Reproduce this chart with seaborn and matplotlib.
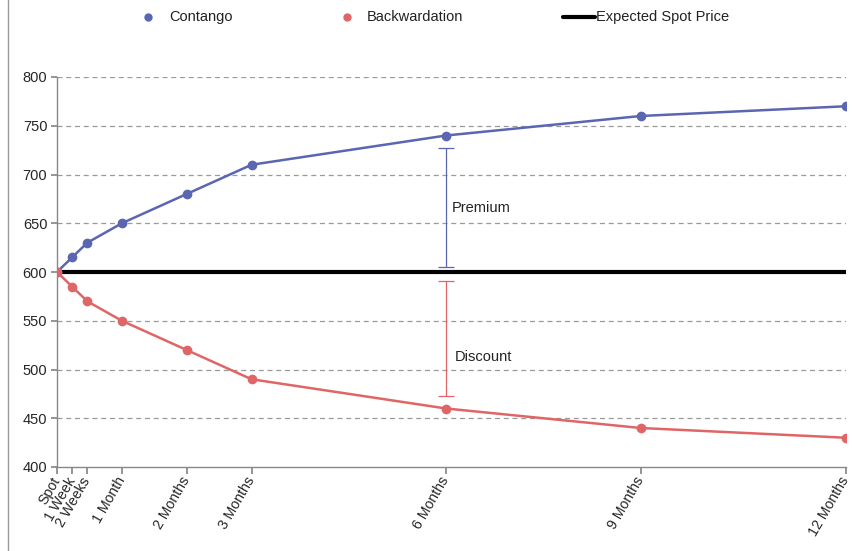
import numpy as np
import pandas as pd
import matplotlib
matplotlib.use("Agg")
import matplotlib.pyplot as plt
import matplotlib.transforms as mtransforms
from matplotlib.lines import Line2D
import seaborn as sns

# Delivery horizon in days and the tick labels shown for each
days = [0, 7, 14, 30, 60, 90, 180, 270, 365]
tenors = ["Spot", "1 Week", "2 Weeks", "1 Month", "2 Months", "3 Months",
          "6 Months", "9 Months", "12 Months"]

# Futures prices along the curve
contango = [600, 615, 630, 650, 680, 710, 740, 760, 770]
backwardation = [600, 585, 570, 550, 520, 490, 460, 440, 430]
spot_price = 600

# Bracket ranges for the annotated gaps
premium_range = [605, 727]
discount_range = [473, 591]
bracket_day = 180

blue = "#5B66B2"
red = "#E06566"

sns.set_theme(style="white")
plt.rcParams["font.family"] = ["Liberation Sans", "DejaVu Sans"]

df = pd.DataFrame({
    "days": days * 2,
    "price": contango + backwardation,
    "curve": ["Contango"] * len(days) + ["Backwardation"] * len(days),
})

W, H = 852, 551
fig = plt.figure(figsize=(W / 100, H / 100), dpi=100)
ax = fig.add_axes([57 / W, 1 - 467 / H, 789 / W, 390 / H])

# Horizontal dashed gridlines
for v in range(450, 801, 50):
    if v != spot_price:
        ax.axhline(v, color="#9a9a9a", lw=0.9, ls=(0, (4, 3)), zorder=0)

ax.axhline(spot_price, color="black", lw=3, zorder=2)

sns.lineplot(data=df, x="days", y="price", hue="curve",
             palette={"Contango": blue, "Backwardation": red},
             marker="o", markersize=7, markeredgewidth=0, lw=1.8,
             legend=False, ax=ax, zorder=3)

# Premium / discount brackets
p_mid = np.mean(premium_range)
d_mid = np.mean(discount_range)
ax.errorbar([bracket_day], [p_mid], yerr=[[p_mid - premium_range[0]], [premium_range[1] - p_mid]],
            fmt="none", ecolor=blue, elinewidth=0.9, capsize=6, capthick=0.9, zorder=4)
ax.errorbar([bracket_day], [d_mid], yerr=[[d_mid - discount_range[0]], [discount_range[1] - d_mid]],
            fmt="none", ecolor=red, elinewidth=0.9, capsize=6, capthick=0.9, zorder=4)
ax.text(bracket_day + 2.5, 666, "Premium", fontsize=10.5, va="center", ha="left", color="#222222")
ax.text(bracket_day + 4, 513, "Discount", fontsize=10.5, va="center", ha="left", color="#222222")

ax.set_xlim(0, 365)
ax.set_ylim(400, 800)
ax.set_yticks(range(400, 801, 50))
ax.set_xticks(days)
ax.set_xticklabels(tenors, rotation=60, ha="right", va="center",
                   rotation_mode="anchor", fontsize=10.2)
shift = mtransforms.ScaledTranslation(-2 / 100, -4 / 100, fig.dpi_scale_trans)
for lbl in ax.get_xticklabels():
    lbl.set_transform(lbl.get_transform() + shift)
ax.tick_params(axis="y", labelsize=10.5, length=4, color="#888888", direction="out", left=True, pad=3)
ax.tick_params(axis="x", length=5, color="#888888", direction="out", bottom=True, pad=3)
ax.set_xlabel("")
ax.set_ylabel("")
for side in ["top", "right"]:
    ax.spines[side].set_visible(False)
for side in ["left", "bottom"]:
    ax.spines[side].set_color("#888888")
    ax.spines[side].set_linewidth(1.0)

# Legend row across the top
ly = 1 - 17 / H
fig.add_artist(Line2D([148 / W], [ly], color=blue, marker="o", ls="none",
                      markersize=6, markeredgewidth=0, transform=fig.transFigure))
fig.text(169 / W, ly, "Contango", fontsize=10.5, va="center", ha="left", color="#222222")
fig.add_artist(Line2D([347 / W], [ly], color=red, marker="o", ls="none",
                      markersize=6, markeredgewidth=0, transform=fig.transFigure))
fig.text(367 / W, ly, "Backwardation", fontsize=10.5, va="center", ha="left", color="#222222")
fig.add_artist(Line2D([563 / W, 595 / W], [ly, ly], color="black", lw=3,
                      transform=fig.transFigure))
fig.text(596 / W, ly, "Expected Spot Price", fontsize=10.5, va="center", ha="left", color="#222222")

# Thin frame line at the left edge
fig.add_artist(Line2D([8 / W, 8 / W], [0.0, 1.0], color="#999999", lw=1.0,
                      transform=fig.transFigure))

fig.savefig("out.png", dpi=100)
